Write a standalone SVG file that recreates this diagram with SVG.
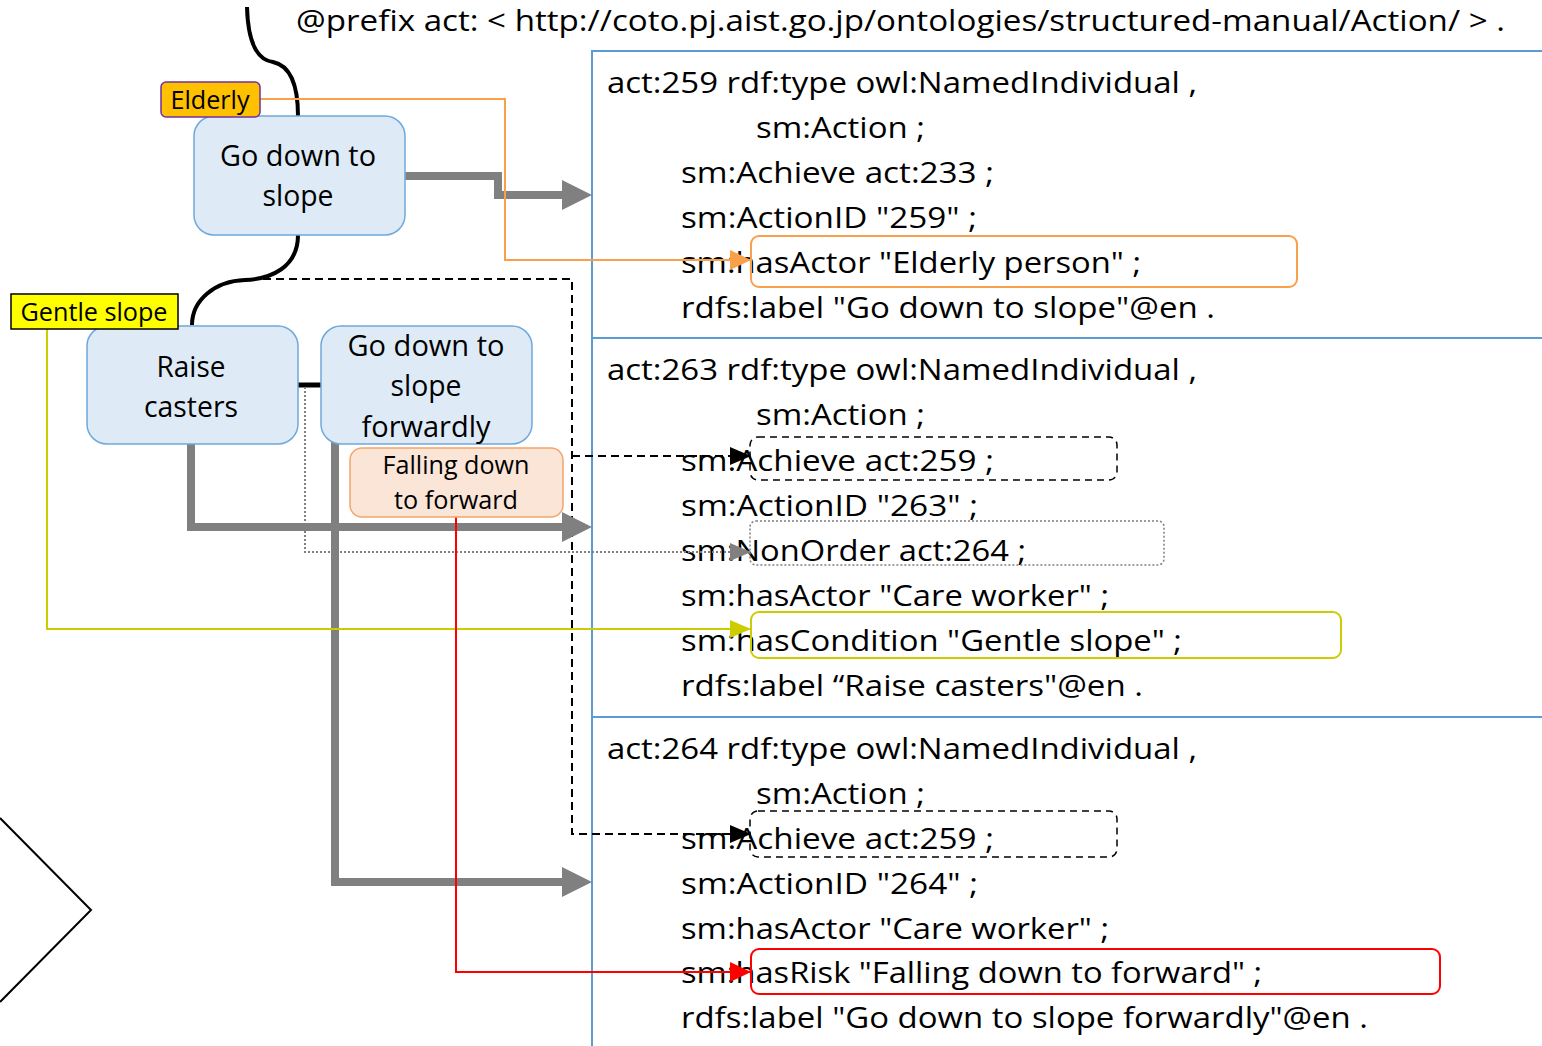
<svg xmlns="http://www.w3.org/2000/svg" width="1542" height="1046" viewBox="0 0 1542 1046">
<style>
.t{font-family:"Open Sans","Noto Sans",sans-serif;font-size:30px;fill:#000}
.s{font-family:"Open Sans","Noto Sans",sans-serif;font-size:25px;fill:#000}
.node{fill:#DEEBF7;stroke:#6FA8DC;stroke-width:1.5}
.risk{fill:#FBE5D6;stroke:#F4A46A;stroke-width:1.5}
.frame{stroke:#5B9BD5;stroke-width:2;fill:none}
.gray{stroke:#808080;stroke-width:8;fill:none}
.dash{stroke:#000;stroke-width:2;stroke-dasharray:8 5;fill:none}
.dot{stroke:#808080;stroke-width:2;stroke-dasharray:2 2;fill:none}
.curve{stroke:#000;stroke-width:4;fill:none}
</style>
<defs>
<marker id="mg" markerUnits="userSpaceOnUse" markerWidth="30" markerHeight="30" viewBox="0 0 30 30" refX="0" refY="15" orient="auto"><path d="M0,0 L30,15 L0,30 z" fill="#808080"/></marker>
<marker id="mo" markerUnits="userSpaceOnUse" markerWidth="21" markerHeight="20" viewBox="0 0 21 20" refX="21" refY="10" orient="auto"><path d="M0,0 L21,10 L0,20 z" fill="#F8A04A"/></marker>
<marker id="mk" markerUnits="userSpaceOnUse" markerWidth="21" markerHeight="18" viewBox="0 0 21 18" refX="21" refY="9" orient="auto"><path d="M0,0 L21,9 L0,18 z" fill="#000"/></marker>
<marker id="ms" markerUnits="userSpaceOnUse" markerWidth="21" markerHeight="18" viewBox="0 0 21 18" refX="21" refY="9" orient="auto"><path d="M0,0 L21,9 L0,18 z" fill="#808080"/></marker>
<marker id="my" markerUnits="userSpaceOnUse" markerWidth="21" markerHeight="18" viewBox="0 0 21 18" refX="21" refY="9" orient="auto"><path d="M0,0 L21,9 L0,18 z" fill="#CCCC00"/></marker>
<marker id="mr" markerUnits="userSpaceOnUse" markerWidth="21" markerHeight="20" viewBox="0 0 21 20" refX="21" refY="10" orient="auto"><path d="M0,0 L21,10 L0,20 z" fill="#FF0000"/></marker>
</defs>
<rect width="1542" height="1046" fill="#fff"/>

<text class="t" x="296" y="31" textLength="1209" lengthAdjust="spacingAndGlyphs">@prefix act: &lt; http://coto.pj.aist.go.jp/ontologies/structured-manual/Action/ &gt; .</text>

<g id="frames">
<path class="frame" d="M592,1046 V51 H1542 M592,338 H1542 M592,717 H1542"/>
</g>

<g id="rdf-259">
<text class="t" x="607" y="93" textLength="590" lengthAdjust="spacingAndGlyphs">act:259 rdf:type owl:NamedIndividual ,</text>
<text class="t" x="756" y="138" textLength="169" lengthAdjust="spacingAndGlyphs">sm:Action ;</text>
<text class="t" x="681" y="183" textLength="313" lengthAdjust="spacingAndGlyphs">sm:Achieve act:233 ;</text>
<text class="t" x="681" y="228" textLength="296" lengthAdjust="spacingAndGlyphs">sm:ActionID "259"  ;</text>
<text class="t" x="681" y="273" textLength="460" lengthAdjust="spacingAndGlyphs">sm:hasActor "Elderly person" ;</text>
<text class="t" x="681" y="318" textLength="534" lengthAdjust="spacingAndGlyphs">rdfs:label "Go down to slope"@en .</text>
<rect x="751" y="236" width="546" height="51" rx="8" fill="none" stroke="#F8A04A" stroke-width="2"/>
</g>

<g id="rdf-263">
<text class="t" x="607" y="380" textLength="590" lengthAdjust="spacingAndGlyphs">act:263 rdf:type owl:NamedIndividual ,</text>
<text class="t" x="756" y="425" textLength="169" lengthAdjust="spacingAndGlyphs">sm:Action ;</text>
<text class="t" x="681" y="471" textLength="313" lengthAdjust="spacingAndGlyphs">sm:Achieve act:259 ;</text>
<text class="t" x="681" y="516" textLength="297" lengthAdjust="spacingAndGlyphs">sm:ActionID "263"  ;</text>
<text class="t" x="681" y="561" textLength="345" lengthAdjust="spacingAndGlyphs">sm:NonOrder act:264 ;</text>
<text class="t" x="681" y="606" textLength="428" lengthAdjust="spacingAndGlyphs">sm:hasActor "Care worker" ;</text>
<text class="t" x="681" y="651" textLength="501" lengthAdjust="spacingAndGlyphs">sm:hasCondition "Gentle slope" ;</text>
<text class="t" x="681" y="696" textLength="462" lengthAdjust="spacingAndGlyphs">rdfs:label “Raise casters"@en .</text>
<rect x="750" y="437" width="367" height="43" rx="8" fill="none" stroke="#000" stroke-width="1.5" stroke-dasharray="7 5"/>
<rect x="750" y="521" width="414" height="44" rx="6" fill="none" stroke="#808080" stroke-width="1.5" stroke-dasharray="2 2"/>
<rect x="751" y="612" width="590" height="46" rx="8" fill="none" stroke="#CCCC00" stroke-width="2"/>
</g>

<g id="rdf-264">
<text class="t" x="607" y="759" textLength="590" lengthAdjust="spacingAndGlyphs">act:264 rdf:type owl:NamedIndividual ,</text>
<text class="t" x="756" y="804" textLength="169" lengthAdjust="spacingAndGlyphs">sm:Action ;</text>
<text class="t" x="681" y="849" textLength="313" lengthAdjust="spacingAndGlyphs">sm:Achieve act:259 ;</text>
<text class="t" x="681" y="894" textLength="297" lengthAdjust="spacingAndGlyphs">sm:ActionID "264" ;</text>
<text class="t" x="681" y="939" textLength="428" lengthAdjust="spacingAndGlyphs">sm:hasActor "Care worker" ;</text>
<text class="t" x="681" y="983" textLength="581" lengthAdjust="spacingAndGlyphs">sm:hasRisk "Falling down to forward" ;</text>
<text class="t" x="681" y="1028" textLength="687" lengthAdjust="spacingAndGlyphs">rdfs:label "Go down to slope forwardly"@en .</text>
<rect x="750" y="811" width="367" height="46" rx="8" fill="none" stroke="#000" stroke-width="1.5" stroke-dasharray="7 5"/>
<rect x="751" y="949" width="689" height="45" rx="8" fill="none" stroke="#FF0000" stroke-width="2"/>
</g>

<g id="connectors">
<path class="curve" d="M247,7 C248,45 258,60 273,62 C292,66 298,90 298,116"/>
<path class="curve" d="M298,235 C298,268 270,279 245,280 C215,281 192,300 192,325"/>
<path d="M297,385 H321" stroke="#000" stroke-width="5"/>
<path class="dash" d="M263,279 H572 V834 H751" marker-end="url(#mk)"/>
<path class="dash" d="M572,456 H751" marker-end="url(#mk)"/>
<path class="dot" d="M305,387 V552 H751" marker-end="url(#ms)"/>
<path class="gray" d="M405,176 H498 V195 H562" marker-end="url(#mg)"/>
<path class="gray" d="M191,444 V527 H562" marker-end="url(#mg)"/>
<path class="gray" d="M335,440 V882 H562" marker-end="url(#mg)"/>
<path d="M260,99 H505 V260 H751" fill="none" stroke="#F8A04A" stroke-width="2" marker-end="url(#mo)"/>
<path d="M47,329 V629 H751" fill="none" stroke="#CCCC00" stroke-width="2" marker-end="url(#my)"/>
<path d="M456,517 V972 H751" fill="none" stroke="#FF0000" stroke-width="2" marker-end="url(#mr)"/>
<polyline points="0,818 91,910 0,1002" fill="none" stroke="#000" stroke-width="2"/>
</g>

<g id="node-go-down">
<rect class="node" x="194" y="116" width="211" height="119" rx="20"/>
<text class="t" x="298" y="166" text-anchor="middle" textLength="156" lengthAdjust="spacingAndGlyphs">Go down to</text>
<text class="t" x="298" y="206" text-anchor="middle" textLength="71" lengthAdjust="spacingAndGlyphs">slope</text>
</g>
<g id="tag-elderly">
<rect x="161" y="82" width="99" height="35" rx="5" fill="#FFC000" stroke="#7030A0" stroke-width="1.5"/>
<text class="s" x="210" y="109" text-anchor="middle" textLength="79" lengthAdjust="spacingAndGlyphs">Elderly</text>
</g>
<g id="node-raise-casters">
<rect class="node" x="87" y="326" width="211" height="118" rx="20"/>
<text class="t" x="191" y="377" text-anchor="middle" textLength="69" lengthAdjust="spacingAndGlyphs">Raise</text>
<text class="t" x="191" y="417" text-anchor="middle" textLength="94" lengthAdjust="spacingAndGlyphs">casters</text>
</g>
<g id="tag-gentle-slope">
<rect x="11" y="294" width="167" height="35" fill="#FFFF00" stroke="#000" stroke-width="1.5"/>
<text class="s" x="94" y="321" text-anchor="middle" textLength="147" lengthAdjust="spacingAndGlyphs">Gentle slope</text>
</g>
<g id="node-go-down-forwardly">
<rect class="node" x="321" y="326" width="211" height="118" rx="20"/>
<text class="t" x="426" y="356" text-anchor="middle" textLength="157" lengthAdjust="spacingAndGlyphs">Go down to</text>
<text class="t" x="426" y="396" text-anchor="middle" textLength="71" lengthAdjust="spacingAndGlyphs">slope</text>
<text class="t" x="426" y="437" text-anchor="middle" textLength="129" lengthAdjust="spacingAndGlyphs">forwardly</text>
</g>
<g id="node-falling-down">
<rect class="risk" x="350" y="448" width="213" height="69" rx="12"/>
<text class="s" x="456" y="474" text-anchor="middle" textLength="147" lengthAdjust="spacingAndGlyphs">Falling down</text>
<text class="s" x="456" y="509" text-anchor="middle" textLength="124" lengthAdjust="spacingAndGlyphs">to forward</text>
</g>
</svg>
